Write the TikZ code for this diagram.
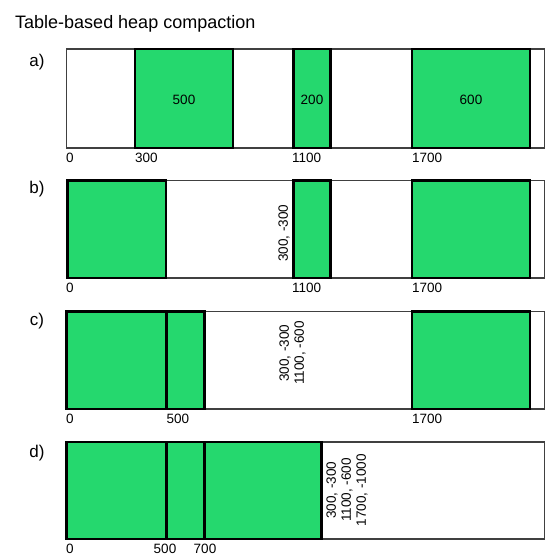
\documentclass[tikz,border=0pt]{standalone}
\usepackage{fontspec}
\setmainfont{Liberation Sans}
\definecolor{heapgreen}{RGB}{37,216,110}
\begin{document}
\begin{tikzpicture}[x=1pt,y=-1pt,
  heap/.style={draw=black!75,line width=1.6pt,fill=white},
  obj/.style={draw=black,line width=2.2pt,fill=heapgreen},
  rowlbl/.style={font=\fontsize{17}{20}\selectfont,inner sep=0pt},
  addr/.style={font=\fontsize{13.5}{15}\selectfont,inner sep=0pt,anchor=base west},
  addrc/.style={font=\fontsize{13.5}{15}\selectfont,inner sep=0pt,anchor=base},
  size/.style={font=\fontsize{13.5}{15}\selectfont,inner sep=0pt},
  tbl/.style={font=\fontsize{13.5}{15}\selectfont,inner sep=0pt,rotate=90,align=center}]
\useasboundingbox (0,0) rectangle (560,560);
\node[anchor=base west,inner sep=0pt,font=\fontsize{18}{21}\selectfont] (title) at (15,28) {Table-based heap compaction};
% row a
\node[rowlbl] (la) at (37,62) {a)};
\draw[heap] (66.5,49) rectangle (544.5,148);
\draw[obj] (135,49) rectangle (233,148);
\draw[obj] (293.5,49) rectangle (330.5,148);
\draw[obj] (412,49) rectangle (530,148);
\node[size] (sa1) at (184,100) {500};
\node[size] (sa2) at (312,100) {200};
\node[size] (sa3) at (471,100) {600};
\node[addr] (aa0) at (66,162) {0};
\node[addr] (aa1) at (135,162) {300};
\node[addr] (aa2) at (292,162) {1100};
\node[addr] (aa3) at (412,162) {1700};
% row b
\node[rowlbl] (lb) at (37,189) {b)};
\draw[heap] (66.5,180.5) rectangle (544.5,278);
\draw[obj] (67.5,180.5) rectangle (166,278);
\draw[obj] (293.5,180.5) rectangle (330.5,278);
\draw[obj] (412,180.5) rectangle (530,278);
\node[tbl] (tb) at (284,233) {300, -300};
\node[addr] (ab0) at (66,292) {0};
\node[addr] (ab2) at (292,292) {1100};
\node[addr] (ab3) at (412,292) {1700};
% row c
\node[rowlbl] (lc) at (37,321) {c)};
\draw[heap] (66.5,311.5) rectangle (544.5,409);
\draw[obj] (66.5,311.5) rectangle (166.5,409);
\draw[obj] (166.5,311.5) rectangle (204.5,409);
\draw[obj] (412,311.5) rectangle (530,409);
\node[tbl] (tc) at (292.5,353) {300, -300\\1100, -600};
\node[addr] (ac0) at (66,423) {0};
\node[addr] (ac1) at (166.5,423) {500};
\node[addr] (ac3) at (412,423) {1700};
% row d
\node[rowlbl] (ld) at (37,453) {d)};
\draw[heap] (66.5,442) rectangle (544.5,539);
\draw[obj] (66.5,442) rectangle (166.5,539);
\draw[obj] (166.5,442) rectangle (204.5,539);
\draw[obj] (204.5,442) rectangle (321.5,539);
\node[tbl] (td) at (347,490) {300, -300\\1100, -600\\1700, -1000};
\node[addr] (ad0) at (66,553) {0};
\node[addrc] (ad1) at (165,553) {500};
\node[addrc] (ad2) at (205,553) {700};
\end{tikzpicture}
\end{document}
